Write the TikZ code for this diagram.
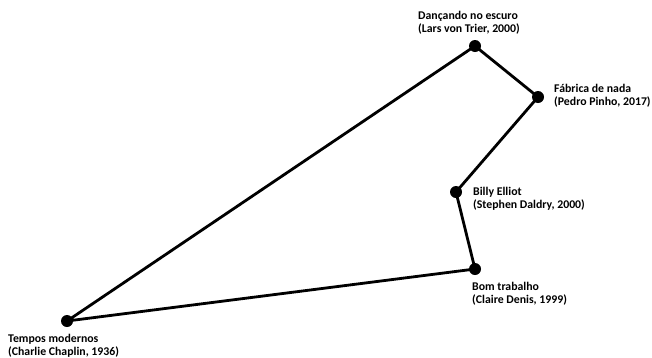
\documentclass[tikz,border=0pt]{standalone}
\usepackage{fontspec}
\setmainfont{Carlito}
\begin{document}
\begin{tikzpicture}[x=1pt,y=-1pt,
  dot/.style={circle,fill=black,inner sep=0pt,minimum size=12pt},
  lbl/.style={anchor=west,align=left,inner sep=0pt,font=\bfseries\fontsize{11.8}{13}\selectfont},
  edge/.style={line width=2.8pt}]
\useasboundingbox (0,0) rectangle (652,357);
\node[dot] (d) at (475,46) {};
\node[dot] (f) at (538,97) {};
\node[dot] (b) at (456,192) {};
\node[dot] (t) at (475,269) {};
\node[dot] (m) at (67,321) {};
\draw[edge] (m.center) -- (d.center) -- (f.center) -- (b.center) -- (t.center) -- (m.center);
\node[lbl] (ld) at (418,22.5) {Dançando no escuro\\(Lars von Trier, 2000)};
\node[lbl] (lf) at (554,96) {Fábrica de nada\\(Pedro Pinho, 2017)};
\node[lbl] (lb) at (473,199) {Billy Elliot\\(Stephen Daldry, 2000)};
\node[lbl] (lt) at (472,293.5) {Bom trabalho\\(Claire Denis, 1999)};
\node[lbl] (lm) at (8,345.5) {Tempos modernos\\(Charlie Chaplin, 1936)};
\end{tikzpicture}
\end{document}
